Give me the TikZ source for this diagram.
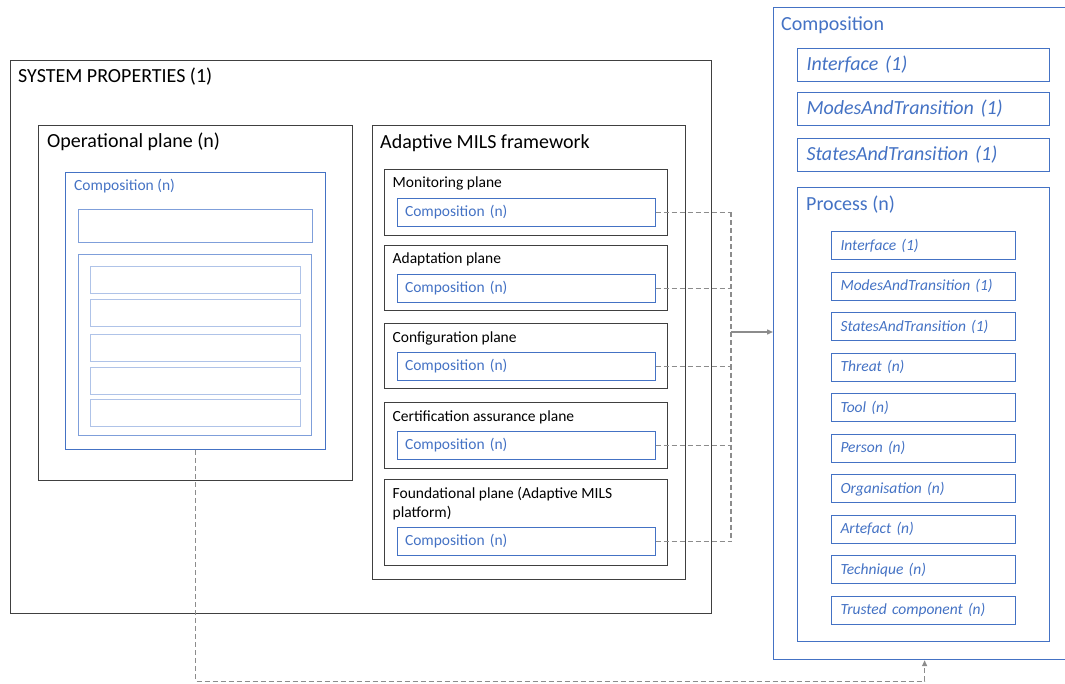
\documentclass[tikz,border=0pt]{standalone}
\usepackage{fontspec}
\setmainfont{Carlito}
\usepackage{xcolor}
\usetikzlibrary{arrows.meta, positioning}
\definecolor{edge}{HTML}{404040}
\definecolor{accent}{HTML}{4472C4}
\definecolor{paleaccent}{HTML}{7F9FDA}
\definecolor{faintaccent}{HTML}{AFC3E8}
\definecolor{wire}{HTML}{8C8C8C}
\newcommand\largetxt{\fontsize{20}{24}\selectfont}
\newcommand\smalltxt{\fontsize{15.5}{19}\selectfont}

\begin{document}
\begin{tikzpicture}[x=1pt, y=-1pt,
  frame/.style={draw=edge, line width=1.2pt, anchor=north west, inner sep=0pt},
  blueframe/.style={frame, draw=accent},
  head/.style={anchor=base west, inner sep=0pt, align=left, font=\largetxt},
  sub/.style={head, font=\smalltxt},
  item/.style={draw=accent, line width=1pt, anchor=north west, inner xsep=8pt,
    inner ysep=0pt, align=left, text=accent, font=\smalltxt,
    text width=242pt, minimum height=28pt},
  link/.style={draw=wire, line width=1.4pt, dash pattern=on 5pt off 3pt},
  tip/.style={-{Triangle[length=6pt,width=5pt]}}]

  \useasboundingbox (0,0) rectangle (1065,684);

  % system properties
  \node[frame, minimum width=701pt, minimum height=553pt] (sys) at (10,60) {};
  \node[head] (syshead) at ([shift={(8,23)}]sys.north west) {SYSTEM PROPERTIES (1)};

  % operational plane
  \node[frame, minimum width=314pt, minimum height=355pt] (op) at (38,125) {};
  \node[head] (ophead) at ([shift={(9,23)}]op.north west) {Operational plane (n)};
  \node[blueframe, minimum width=260pt, minimum height=277pt] (opcomp) at (65,172) {};
  \node[sub, text=accent] (opcomphead) at ([shift={(9,19)}]opcomp.north west) {Composition (n)};
  \node[frame, draw=paleaccent, line width=1pt, minimum width=234pt, minimum height=33pt] (opif) at (78,209) {};
  \node[frame, draw=paleaccent, line width=1pt, minimum width=233pt, minimum height=181pt] (opproc) at (78,254) {};
  \foreach \y [count=\i] in {266,299,334,367,399}
    \node[frame, draw=faintaccent, line width=1pt, minimum width=210pt, minimum height=27pt] (opitem\i) at (90,\y) {};

  % adaptive MILS framework
  \node[frame, minimum width=313pt, minimum height=454pt] (amf) at (372,125) {};
  \node[head] (amfhead) at ([shift={(8,24)}]amf.north west) {Adaptive MILS framework};
  \foreach \n/\t/\y/\h/\b/\c in {mon/Monitoring plane/169/66/19/29,
                                ada/Adaptation plane/245/65/19/29,
                                conf/Configuration plane/323/65/19/29,
                                cert/Certification assurance plane/402/66/19/29,
                                found/{Foundational plane (Adaptive MILS\\platform)}/479/86/38/48} {
    \node[frame, minimum width=283pt, minimum height=\h pt] (\n) at (384,\y) {};
    \node[sub] (\n-head) at ([shift={(8.5,\b)}]\n.north west) {\t};
    \node[item] (\n-comp) at ([shift={(12.5,\c)}]\n.north west) {Composition (n)};
  }

  % composition model
  \node[blueframe, minimum width=302pt, minimum height=652pt] (rcomp) at (773,7) {};
  \node[head, text=accent] (rcomphead) at ([shift={(8,24)}]rcomp.north west) {Composition};
  \foreach \n/\t/\y in {rif/Interface (1)/48,
                        rmode/ModesAndTransition (1)/92,
                        rstate/StatesAndTransition (1)/138}
    \node[item, font=\largetxt\itshape, text width=234pt, inner xsep=9pt,
          minimum height=33pt] (\n) at (797,\y) {\t};
  \node[blueframe, minimum width=252pt, minimum height=454pt] (proc) at (797,187) {};
  \node[head, text=accent] (prochead) at ([shift={(9,24)}]proc.north west) {Process (n)};
  \foreach \t [count=\i] in {Interface (1), ModesAndTransition (1),
      StatesAndTransition (1), Threat (n), Tool (n), Person (n),
      Organisation (n), Artefact (n), Technique (n), Trusted component (n)}
    \node[item, font=\smalltxt\itshape, text width=166pt, inner xsep=9pt]
      (p\i) at (831,{231+40.55*(\i-1)}) {\t};

  % connectors
  \coordinate (bus) at (731,332);
  \foreach \n in {mon,ada,conf,cert,found}
    \draw[link] (\n-comp.east) -- (\n-comp.east -| bus);
  \draw[link] (mon-comp.east -| bus) -- (found-comp.east -| bus);
  \draw[draw=wire, line width=1.4pt, tip] (bus) -- (bus -| rcomp.west);
  \draw[link, tip] (opcomp.south) -- ++(0,231) -| (rcomp.south);
\end{tikzpicture}
\end{document}
